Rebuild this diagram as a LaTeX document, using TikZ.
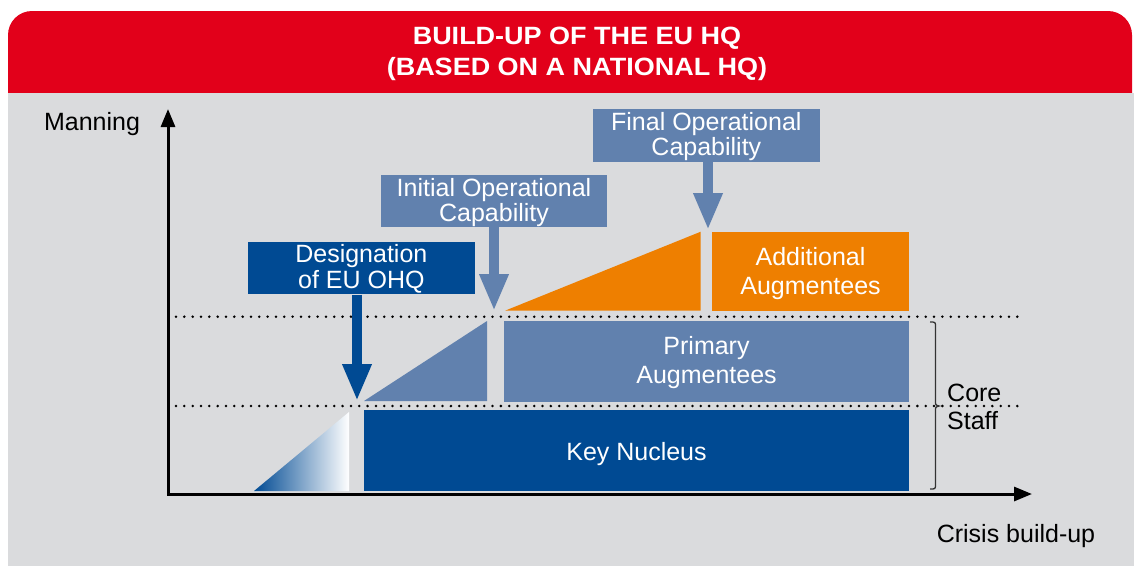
\documentclass[tikz,border=0pt]{standalone}
\usepackage{fontspec}
\setmainfont{Liberation Sans}
\newfontfamily\titlefont{Liberation Sans}[FakeStretch=1.08]
\usetikzlibrary{arrows.meta}
\definecolor{bggray}{HTML}{DADBDD}
\definecolor{hdred}{HTML}{E2001A}
\definecolor{dkblue}{HTML}{004A93}
\definecolor{mdblue}{HTML}{6181AE}
\definecolor{orng}{HTML}{EE7F00}
\tikzset{
  txt/.style={font=\fontsize{25}{27}\selectfont, inner sep=0pt, align=center},
  wtxt/.style={txt, text=white},
  boxd/.style={inner sep=0pt, fill=dkblue},
  boxm/.style={inner sep=0pt, fill=mdblue},
  boxo/.style={inner sep=0pt, fill=orng},
  bigarrow/.style={line width=9.5pt, -{Triangle[length=37pt,width=27pt]}},
  axisline/.style={line width=3pt, -{Triangle[length=18pt,width=14pt]}},
  dotline/.style={line width=2.8pt, line cap=round, dash pattern=on 0pt off 8.33pt},
}
\begin{document}
\begin{tikzpicture}[x=1pt,y=-1pt]
\useasboundingbox (0,0) rectangle (1134,566);
\fill[white] (0,0) rectangle (1134,566);
\fill[hdred, rounded corners=24pt] (8,11) rectangle (1132,140);
\fill[bggray] (8,93) rectangle (1134,566);
\node[font=\titlefont\bfseries\fontsize{25}{30.7}\selectfont, text=white, align=center, inner sep=0pt] (title) at (577,54) {BUILD-UP OF THE EU HQ\\(BASED ON A NATIONAL HQ)};

% dotted levels
\coordinate (d1a) at (176,316.7);
\coordinate (d1b) at (1022,316.7);
\coordinate (d2a) at (176,406);
\coordinate (d2b) at (1022,406);
\draw[dotline] (d1a) -- (d1b);
\draw[dotline] (d2a) -- (d2b);

% gradient triangle
\shade[left color=dkblue, right color=white] (254,491) -- (349,412) -- (349,491) -- cycle;
% mid-blue triangle
\fill[mdblue] (364,401) -- (487,321) -- (487,401) -- cycle;
% orange triangle
\fill[orng] (505,310.7) -- (700.7,231.7) -- (700.7,310.7) -- cycle;

% boxes
\node[boxd, minimum width=545pt, minimum height=80.7pt] (key) at (636.5,450.35) {};
\node[boxm, minimum width=405pt, minimum height=80.7pt] (prim) at (706.5,361.35) {};
\node[boxo, minimum width=197pt, minimum height=79pt] (add) at (810.5,271.5) {};
\node[boxd, minimum width=227.3pt, minimum height=52.3pt] (desig) at (361.35,268.15) {};
\node[boxm, minimum width=226pt, minimum height=52.5pt] (init) at (494,200.75) {};
\node[boxm, minimum width=227.3pt, minimum height=52.7pt] (final) at (706.35,135.35) {};

\node[wtxt] (keyt) at (636.5,453.6) {Key Nucleus};
\node[wtxt, font=\fontsize{25}{29}\selectfont] (primt) at (706.5,363) {Primary\\Augmentees};
\node[wtxt, font=\fontsize{25}{29}\selectfont] (addt) at (810.5,274) {Additional\\Augmentees};
\node[wtxt, font=\fontsize{25}{25.7}\selectfont] (desigt) at (361.35,268.8) {Designation\\of EU OHQ};
\node[wtxt, font=\fontsize{25}{25}\selectfont] (initt) at (494,202.5) {Initial Operational\\Capability};
\node[wtxt, font=\fontsize{25}{25}\selectfont] (finalt) at (706.35,136.75) {Final Operational\\Capability};

% arrows
\coordinate (desigtip) at (357,401);
\coordinate (inittip) at (494,311);
\coordinate (finaltip) at (708,230);
\draw[bigarrow, dkblue] (desigtip |- desig.south) -- (desigtip);
\draw[bigarrow, mdblue] (inittip |- init.south) -- (inittip);
\draw[bigarrow, mdblue] (finaltip |- final.south) -- (finaltip);

% axes
\coordinate (orig) at (168,494);
\coordinate (ytip) at (168,109);
\coordinate (xtip) at (1032,494);
\coordinate (ybot) at (168,495.5);
\draw[axisline] (ybot) -- (ytip);
\draw[axisline] (orig) -- (xtip);
\node[txt] (manning) at (92,124.5) {Manning};
\node[txt] (crisis) at (1016,536) {Crisis build-up};

% brace
\coordinate (bt) at (930,322);
\coordinate (bb) at (930,489);
\draw[line width=1.3pt, black!80] (bt) .. controls (935.5,322) .. (935.5,327) -- (935.5,401) .. controls (935.5,405) .. (939,406) .. controls (935.5,407) .. (935.5,411) -- (935.5,484) .. controls (935.5,489) .. (bb);
\node[txt, anchor=west, align=left, font=\fontsize{25}{28}\selectfont] (core) at (947,406.5) {Core\\Staff};
\end{tikzpicture}
\end{document}
